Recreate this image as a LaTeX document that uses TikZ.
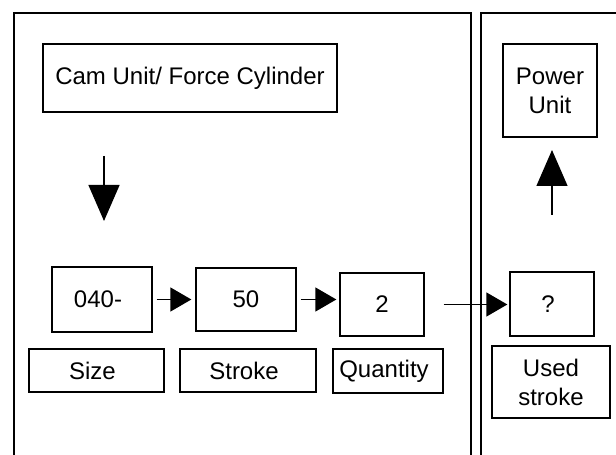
\documentclass[tikz,border=0pt]{standalone}
\usepackage{fontspec}
\setmainfont{Liberation Sans}
\usetikzlibrary{arrows.meta,positioning}

\begin{document}
\begin{tikzpicture}[x=1pt, y=1pt, node distance=70pt, on grid,
					every node/.style={font=\fontsize{24}{29}\selectfont},
					box/.style={draw, line width=1.3pt, inner sep=0pt, align=center},
					leftbox/.style={box, execute at end node=\hspace*{8pt}},
					panel/.style={line width=2pt},
					bigarrow/.style={line width=1.3pt, -{Triangle[length=36pt, width=31pt]}},
					smallarrow/.style={line width=1.3pt, -{Triangle[length=21pt, width=24pt]}}
				]
				\useasboundingbox (0,0) rectangle (616,455);
				\draw[panel] (14,0) |- (471,442) -- (471,0);
				\draw[panel] (481,0) |- (616,442);
				
				\node[box, minimum width=294pt, minimum height=68pt] (cam) at (190,377) {Cam Unit/ Force Cylinder};
				\node[box, minimum width=94pt, minimum height=93pt] (pwr) at (550,364.5) {Power\\Unit};
				
				\node[leftbox, minimum width=100pt, minimum height=65pt] (sz) at (102,155.5) {040-};
				\node[box, minimum width=100pt, minimum height=63pt] (st) [right=144pt of sz] {50};
				\node[box, minimum width=84pt, minimum height=63pt] (qt) [right=136pt of st, yshift=-5pt] {2};
				\node[leftbox, minimum width=84pt, minimum height=64pt] (us) at (552,151) {?};
				
				\node[leftbox, minimum width=135pt, minimum height=43pt] (szl) [below=71pt of sz, xshift=-5.5pt] {Size};
				\node[leftbox, minimum width=136pt, minimum height=43pt] (stl) [below=71pt of st, xshift=2pt] {Stroke};
				\node[leftbox, minimum width=110pt, minimum height=44pt] (qtl) [below=66.5pt of qt, xshift=6pt] {Quantity};
				\node[box, minimum width=118pt, minimum height=72pt] (usl) [below=78pt of us, xshift=-1pt] {Used\\stroke};
				
				\coordinate (dtop) at (104,299);
				\coordinate (dtip) at (104,234);
				\coordinate (ubot) at (552,240);
				\coordinate (utip) at (552,305);
				
				\draw[bigarrow] (dtop) -- (dtip);
				\draw[bigarrow] (ubot) -- (utip);
				\draw[smallarrow, shorten <=4pt, shorten >=4pt] (sz.east) -- (sz.east -| st.west);
				\draw[smallarrow, shorten <=4pt, shorten >=3pt] (st.east) -- (st.east -| qt.west);
				\draw[smallarrow, shorten <=19pt, shorten >=2pt] (qt.east) -- (qt.east -| us.west);
			\end{tikzpicture}
\end{document}
